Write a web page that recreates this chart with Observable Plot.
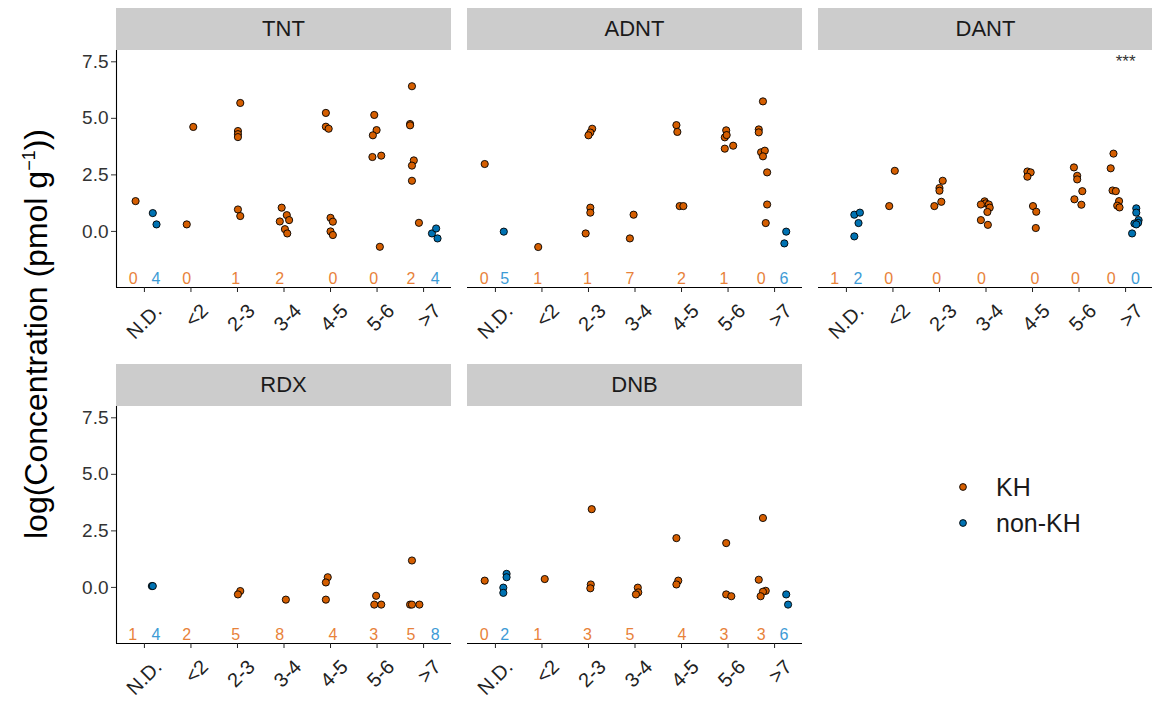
<!DOCTYPE html>
<html><head><meta charset="utf-8">
<script src="https://cdn.jsdelivr.net/npm/d3@7"></script>
<script src="https://cdn.jsdelivr.net/npm/@observablehq/plot@0.6"></script>
<style>
body{margin:0;background:#fff;font-family:"Liberation Sans",Arial,sans-serif;}
#root{position:relative;width:1152px;height:702px;overflow:hidden;background:#fff;}
.strip{position:absolute;background:#cccccc;color:#1a1a1a;font-size:22px;text-align:center;display:flex;align-items:center;justify-content:center;}
.pl{position:absolute;}
.pl svg{max-width:none !important;}
.ytitle{position:absolute;white-space:nowrap;font-size:32px;color:#000;transform:translate(-50%,-50%) rotate(-90deg);}
.leg{position:absolute;font-size:25px;color:#1a1a1a;line-height:28px;white-space:nowrap;}
</style></head><body><div id="root"></div><script>
const categories = ["N.D.","<2","2-3","3-4","4-5","5-6",">7"];
const groups = ["KH","non-KH"];
const compounds = ["TNT","ADNT","DANT","RDX","DNB"];
const yTicks = [0, 2.5, 5, 7.5];

// [category, group, jitter/dodge offset (category units), log concentration]
const tntPoints = [
["N.D.","KH",-0.19,1.34],["N.D.","non-KH",0.18,0.81],["N.D.","non-KH",0.26,0.31],
["<2","KH",0.05,4.62],["<2","KH",-0.09,0.31],
["2-3","KH",0.06,5.68],["2-3","KH",0.01,4.44],["2-3","KH",0.01,4.30],["2-3","KH",0.01,4.17],["2-3","KH",0.01,0.97],["2-3","KH",0.06,0.68],
["3-4","KH",-0.05,1.05],["3-4","KH",0.06,0.72],["3-4","KH",-0.09,0.44],["3-4","KH",0.11,0.50],["3-4","KH",0.02,0.10],["3-4","KH",0.07,-0.09],
["4-5","KH",-0.10,5.24],["4-5","KH",-0.10,4.63],["4-5","KH",-0.04,4.54],["4-5","KH",0.00,0.60],["4-5","KH",0.05,0.43],["4-5","KH",0.00,0.00],["4-5","KH",0.05,-0.16],
["5-6","KH",-0.06,5.15],["5-6","KH",-0.01,4.48],["5-6","KH",-0.09,4.25],["5-6","KH",-0.10,3.29],["5-6","KH",0.09,3.35],["5-6","KH",0.06,-0.68],
[">7","KH",-0.25,6.42],[">7","KH",-0.29,4.75],[">7","KH",-0.29,4.69],[">7","KH",-0.21,3.14],[">7","KH",-0.25,2.91],[">7","KH",-0.25,2.24],[">7","KH",-0.10,0.38],
[">7","non-KH",0.18,-0.09],[">7","non-KH",0.27,0.13],[">7","non-KH",0.30,-0.31]
];
const adntPoints = [
["N.D.","KH",-0.23,2.98],["N.D.","non-KH",0.18,-0.01],
["<2","KH",-0.08,-0.69],
["2-3","KH",0.08,4.54],["2-3","KH",0.04,4.37],["2-3","KH",0.00,4.25],["2-3","KH",0.04,1.05],["2-3","KH",0.04,0.83],["2-3","KH",-0.06,-0.09],
["3-4","KH",-0.03,0.74],["3-4","KH",-0.11,-0.31],
["4-5","KH",-0.11,4.70],["4-5","KH",-0.09,4.40],["4-5","KH",-0.04,1.12],["4-5","KH",0.04,1.12],
["5-6","KH",-0.04,4.47],["5-6","KH",-0.07,4.16],["5-6","KH",-0.03,4.26],["5-6","KH",-0.07,3.66],["5-6","KH",0.11,3.79],
[">7","KH",-0.25,5.75],[">7","KH",-0.34,4.51],[">7","KH",-0.34,4.38],[">7","KH",-0.29,3.50],[">7","KH",-0.21,3.57],[">7","KH",-0.25,3.32],[">7","KH",-0.16,2.61],[">7","KH",-0.16,1.19],[">7","KH",-0.19,0.37],
[">7","non-KH",0.25,-0.01],[">7","non-KH",0.21,-0.53]
];
const dantPoints = [
["N.D.","non-KH",0.17,0.74],["N.D.","non-KH",0.29,0.83],["N.D.","non-KH",0.26,0.37],["N.D.","non-KH",0.17,-0.22],
["<2","KH",0.04,2.68],["<2","KH",-0.08,1.12],
["2-3","KH",0.07,2.24],["2-3","KH",0.00,1.92],["2-3","KH",0.00,1.80],["2-3","KH",0.04,1.31],["2-3","KH",-0.11,1.12],
["3-4","KH",-0.03,1.33],["3-4","KH",-0.01,1.24],["3-4","KH",-0.11,1.19],["3-4","KH",0.06,1.19],["3-4","KH",0.08,1.05],["3-4","KH",0.03,0.86],["3-4","KH",-0.11,0.50],["3-4","KH",0.04,0.29],
["4-5","KH",-0.11,2.65],["4-5","KH",-0.04,2.61],["4-5","KH",-0.11,2.42],["4-5","KH",0.01,1.12],["4-5","KH",0.08,0.87],["4-5","KH",0.07,0.15],
["5-6","KH",-0.11,2.83],["5-6","KH",-0.04,2.46],["5-6","KH",-0.04,2.30],["5-6","KH",0.07,1.78],["5-6","KH",-0.10,1.42],["5-6","KH",0.05,1.18],
[">7","KH",-0.26,3.44],[">7","KH",-0.32,2.79],[">7","KH",-0.28,1.81],[">7","KH",-0.21,1.78],[">7","KH",-0.14,1.34],[">7","KH",-0.18,1.14],[">7","KH",-0.13,1.06],
[">7","non-KH",0.23,1.02],[">7","non-KH",0.23,0.83],[">7","non-KH",0.28,0.50],[">7","non-KH",0.27,0.38],[">7","non-KH",0.19,0.35],[">7","non-KH",0.23,0.31],[">7","non-KH",0.14,-0.09]
];
const rdxPoints = [
["N.D.","non-KH",0.16,0.06],["N.D.","non-KH",0.18,0.06],
["2-3","KH",0.06,-0.16],["2-3","KH",0.01,-0.31],
["3-4","KH",0.04,-0.54],
["4-5","KH",-0.06,0.45],["4-5","KH",-0.10,0.22],["4-5","KH",-0.10,-0.54],
["5-6","KH",-0.02,-0.37],["5-6","KH",-0.06,-0.76],["5-6","KH",0.09,-0.76],
[">7","KH",-0.25,1.19],[">7","KH",-0.29,-0.76],[">7","KH",-0.25,-0.76],[">7","KH",-0.09,-0.76]
];
const dnbPoints = [
["N.D.","KH",-0.23,0.30],["N.D.","non-KH",0.24,0.60],["N.D.","non-KH",0.24,0.45],["N.D.","non-KH",0.17,-0.01],["N.D.","non-KH",0.17,-0.24],
["<2","KH",0.06,0.37],
["2-3","KH",0.07,3.46],["2-3","KH",0.05,0.13],["2-3","KH",0.04,-0.04],
["3-4","KH",0.06,-0.01],["3-4","KH",0.07,-0.22],["3-4","KH",0.02,-0.31],
["4-5","KH",-0.11,2.18],["4-5","KH",-0.07,0.30],["4-5","KH",-0.11,0.13],
["5-6","KH",-0.04,1.96],["5-6","KH",-0.04,-0.31],["5-6","KH",0.07,-0.39],
[">7","KH",-0.25,3.07],[">7","KH",-0.34,0.34],[">7","KH",-0.19,-0.15],[">7","KH",-0.25,-0.19],[">7","KH",-0.30,-0.39],
[">7","non-KH",0.25,-0.31],[">7","non-KH",0.29,-0.76]
];

// count labels: [category, group, offset, count]
const tntCounts = [["N.D.","KH",-0.24,0],["N.D.","non-KH",0.25,4],["<2","KH",-0.09,0],["2-3","KH",-0.04,1],["3-4","KH",-0.09,2],["4-5","KH",0.05,0],["5-6","KH",-0.07,0],[">7","KH",-0.27,2],[">7","non-KH",0.25,4]];
const adntCounts = [["N.D.","KH",-0.24,0],["N.D.","non-KH",0.20,5],["<2","KH",-0.09,1],["2-3","KH",-0.02,1],["3-4","KH",-0.11,7],["4-5","KH",0.00,2],["5-6","KH",-0.09,1],[">7","KH",-0.29,0],[">7","non-KH",0.20,6]];
const dantCounts = [["N.D.","KH",-0.25,1],["N.D.","non-KH",0.25,2],["<2","KH",-0.09,0],["2-3","KH",-0.06,0],["3-4","KH",-0.10,0],["4-5","KH",0.05,0],["5-6","KH",-0.08,0],[">7","KH",-0.31,0],[">7","non-KH",0.21,0]];
const rdxCounts = [["N.D.","KH",-0.25,1],["N.D.","non-KH",0.25,4],["<2","KH",-0.09,2],["2-3","KH",-0.04,5],["3-4","KH",-0.09,8],["4-5","KH",0.05,4],["5-6","KH",-0.07,3],[">7","KH",-0.27,5],[">7","non-KH",0.25,8]];
const dnbCounts = [["N.D.","KH",-0.24,0],["N.D.","non-KH",0.20,2],["<2","KH",-0.09,1],["2-3","KH",-0.02,3],["3-4","KH",-0.11,5],["4-5","KH",0.01,4],["5-6","KH",-0.09,3],[">7","KH",-0.29,3],[">7","non-KH",0.20,6]];
const countLevel = -2.08;

const dantSignif = [[">7", 7.58, "***"]];

const pointFill = {"KH":"#D55E00","non-KH":"#0072B2"};
const labelFill = {"KH":"#E8823A","non-KH":"#3D9BD6"};

const yDomain = [-2.48, 8.0];
const xDomain = [-0.6, categories.length - 0.4];
const PW = 335, PH = 237, ML = 52, MR = 6, MT = 6, MB = 72, STRIP = 42;

const panels = [
  {name:"TNT", pts:tntPoints, cnt:tntCounts, left:116, top:50, yaxis:true},
  {name:"ADNT", pts:adntPoints, cnt:adntCounts, left:467, top:50, yaxis:false},
  {name:"DANT", pts:dantPoints, cnt:dantCounts, left:818, top:50, yaxis:false, sig:dantSignif},
  {name:"RDX", pts:rdxPoints, cnt:rdxCounts, left:116, top:406, yaxis:true},
  {name:"DNB", pts:dnbPoints, cnt:dnbCounts, left:467, top:406, yaxis:false}
];

const root = document.getElementById("root");
const idx = c => categories.indexOf(c);
const tickIdx = d3.range(categories.length);

for (const p of panels) {
  const strip = document.createElement("div");
  strip.className = "strip";
  strip.style.left = p.left + "px";
  strip.style.top = (p.top - STRIP) + "px";
  strip.style.width = PW + "px";
  strip.style.height = STRIP + "px";
  strip.textContent = p.name;
  root.appendChild(strip);

  const marks = [
    Plot.ruleY([yDomain[0]], {stroke:"#000", strokeWidth:1.1}),
    Plot.axisX({ticks: tickIdx, tickFormat: () => "", tickSize: 5, stroke: "#222", label: null}),
    Plot.axisX({ticks: tickIdx, tickFormat: i => categories[i], tickRotate: -45,
      tickSize: 0, tickPadding: 8, fontSize: 20, fill: "#222", dx: 14, dy: 12, label: null})
  ];
  if (p.yaxis) {
    marks.push(Plot.ruleX([xDomain[0]], {stroke:"#000", strokeWidth:1.1}));
    marks.push(Plot.axisY({ticks: yTicks, tickFormat: d3.format(".1f"), tickSize: 5, tickPadding: 3,
      fontSize: 19, color: "#333", label: null}));
  }
  for (const g of groups) {
    marks.push(Plot.dot(p.pts.filter(d => d[1] === g), {
      x: d => idx(d[0]) + d[2], y: d => d[3], r: 3.6, fill: pointFill[g], stroke: "#000", strokeWidth: 0.9
    }));
  }
  for (const g of groups) {
    marks.push(Plot.text(p.cnt.filter(d => d[1] === g), {
      x: d => idx(d[0]) + d[2], y: () => countLevel, text: d => String(d[3]), fill: labelFill[g], fontSize: 16
    }));
  }
  if (p.sig) {
    marks.push(Plot.text(p.sig, {x: d => idx(d[0]), y: d => d[1], text: d => d[2], fill: "#333", fontSize: 17, dy: 2}));
  }
  const W = ML + PW + MR, H = MT + PH + MB;
  const chart = Plot.plot({
    width: W, height: H,
    marginLeft: ML, marginRight: MR, marginTop: MT, marginBottom: MB,
    x: {domain: xDomain},
    y: {domain: yDomain, axis: p.yaxis ? undefined : null},
    style: {background: "transparent", fontFamily: "Liberation Sans, Arial, sans-serif", overflow: "visible", maxWidth: "none"},
    marks
  });
  const wrap = document.createElement("div");
  wrap.className = "pl";
  wrap.style.left = (p.left - ML) + "px";
  wrap.style.top = (p.top - MT) + "px";
  wrap.style.width = W + "px";
  wrap.style.height = H + "px";
  wrap.appendChild(chart);
  root.appendChild(wrap);
}

const yt = document.createElement("div");
yt.className = "ytitle";
yt.style.left = "36px"; yt.style.top = "334px";
yt.innerHTML = "log(Concentration (pmol g<sup style='font-size:18px'>−1</sup>))";
root.appendChild(yt);

// legend
groups.forEach((g, i) => {
  const y = 487 + i * 36;
  const sv = document.createElementNS("http://www.w3.org/2000/svg", "svg");
  sv.setAttribute("width", 14); sv.setAttribute("height", 14);
  sv.style.position = "absolute"; sv.style.left = (963 - 7) + "px"; sv.style.top = (y - 7) + "px";
  const c = document.createElementNS("http://www.w3.org/2000/svg", "circle");
  c.setAttribute("cx", 7); c.setAttribute("cy", 7); c.setAttribute("r", 3.4);
  c.setAttribute("fill", pointFill[g]); c.setAttribute("stroke", "#000"); c.setAttribute("stroke-width", 0.9);
  sv.appendChild(c); root.appendChild(sv);
  const t = document.createElement("div");
  t.className = "leg"; t.style.left = "996px"; t.style.top = (y - 14) + "px";
  t.textContent = g; root.appendChild(t);
});
</script></body></html>
